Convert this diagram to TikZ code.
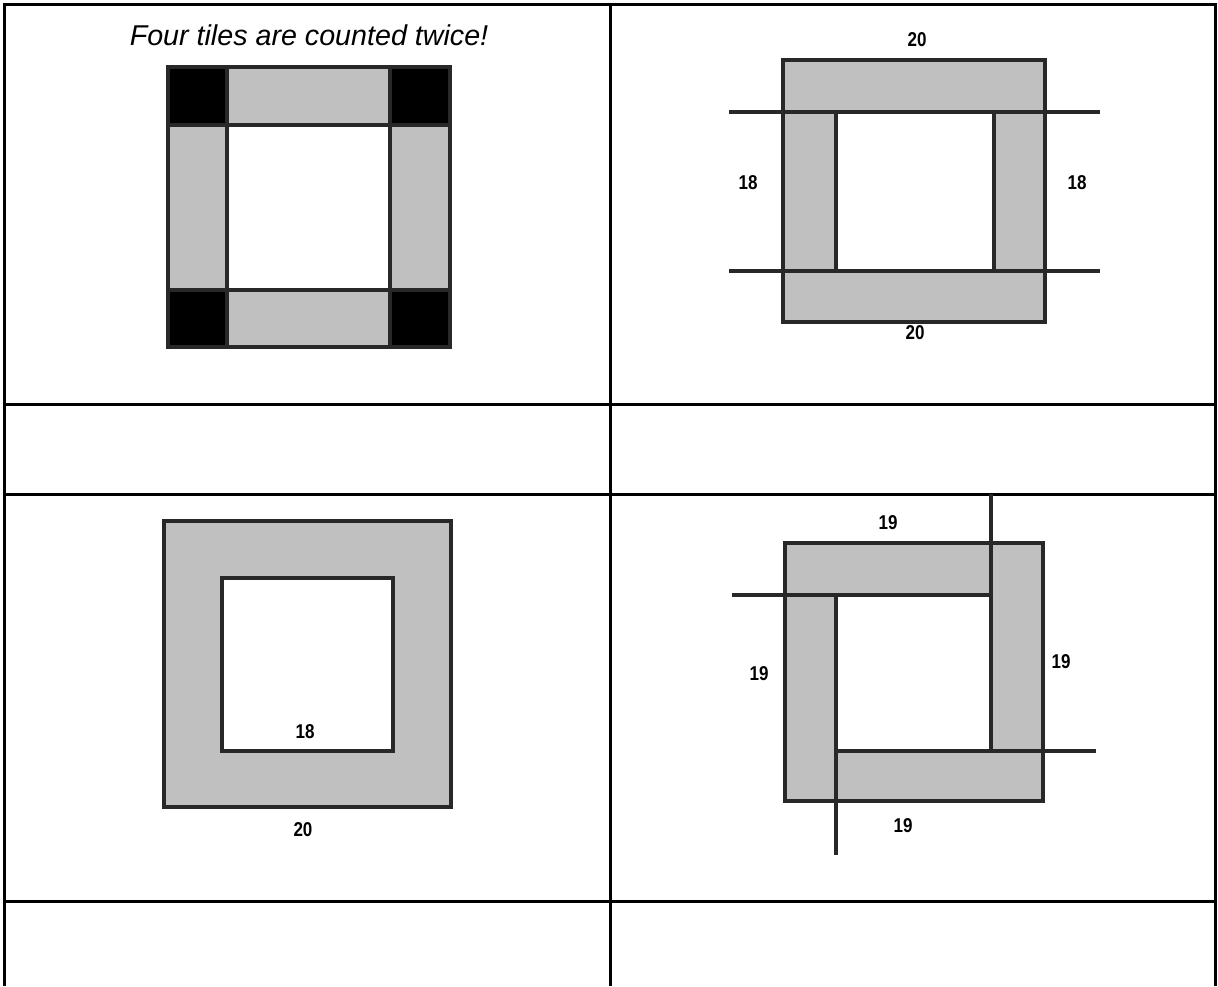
\documentclass[tikz,border=0pt]{standalone}
\usepackage{fontspec}
\setsansfont{Liberation Sans}
\newfontfamily\numfont[FakeStretch=0.85]{Liberation Sans}
\usepackage{xcolor}
\definecolor{tilegray}{RGB}{192,192,192}
\definecolor{inkdark}{RGB}{40,40,40}

\begin{document}
\begin{tikzpicture}[x=0.75pt,y=-0.75pt,
  cut/.style={draw=inkdark,line width=3pt},
  rule/.style={draw=black,line width=2.25pt},
  len/.style={font={\numfont\bfseries\fontsize{15}{17}\selectfont},inner sep=0pt}]
  \useasboundingbox (0,0) rectangle (1218,986);
  % table of four cells, two blank rows between and below
  \draw[rule] (4,986) -- (4,4) -- (1215,4) -- (1215,986);
  \draw[rule] (610,4) -- (610,986);
  \draw[rule] (4,404) -- (1215,404);
  \draw[rule] (4,494) -- (1215,494);
  \draw[rule] (4,901) -- (1215,901);

  % corners counted twice
  \node[font={\sffamily\itshape\fontsize{21.5}{24}\selectfont},anchor=base] (twice) at (309,45) {Four tiles are counted twice!};
  \fill[tilegray] (168,67) rectangle (450,347);
  \fill[white] (227,125) rectangle (390,290);
  \foreach \cx/\cy in {168/67,390/67,168/290,390/290}
    \fill[black] (\cx,\cy) rectangle ++(60,57);
  \draw[cut] (168,67) rectangle (450,347);
  \draw[cut] (227,67) -- (227,347);
  \draw[cut] (390,67) -- (390,347);
  \draw[cut] (168,125) -- (450,125);
  \draw[cut] (168,290) -- (450,290);

  % 20 + 20 + 18 + 18
  \fill[tilegray] (783,60) rectangle (1045,322);
  \fill[white] (836,112) rectangle (994,271);
  \draw[cut] (783,60) rectangle (1045,322);
  \draw[cut] (729,112) -- (1100,112);
  \draw[cut] (729,271) -- (1100,271);
  \draw[cut] (836,112) -- (836,271);
  \draw[cut] (994,112) -- (994,271);
  \node[len] (bTop) at (917,40) {20};
  \node[len] (bBot) at (915,333) {20};
  \node[len] (bLeft) at (748,183) {18};
  \node[len] (bRight) at (1077,183) {18};

  % outer 20 less inner 18
  \draw[cut,fill=tilegray] (164,521) rectangle (451,807);
  \draw[cut,fill=white] (222,578) rectangle (393,751);
  \node[len] (cInner) at (305,732) {18};
  \node[len] (cOuter) at (303,830) {20};

  % four strips of 19
  \fill[tilegray] (785,543) rectangle (1043,801);
  \fill[white] (836,595) rectangle (991,751);
  \draw[cut] (785,543) rectangle (1043,801);
  \draw[cut] (732,595) -- (991,595);
  \draw[cut] (991,494) -- (991,751);
  \draw[cut] (836,751) -- (1096,751);
  \draw[cut] (836,595) -- (836,855);
  \node[len] (dTop) at (888,523) {19};
  \node[len] (dLeft) at (759,674) {19};
  \node[len] (dRight) at (1061,662) {19};
  \node[len] (dBot) at (903,826) {19};
\end{tikzpicture}
\end{document}
